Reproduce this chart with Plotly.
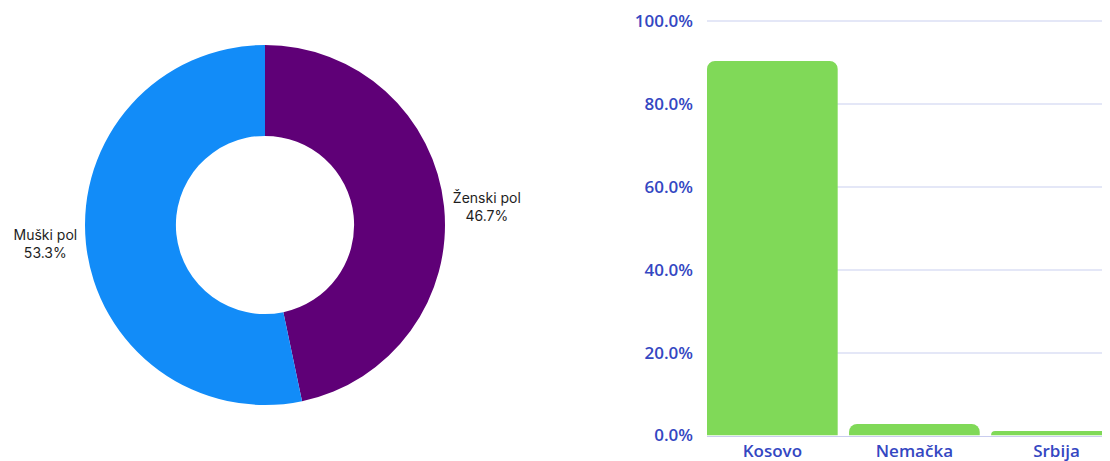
import plotly.graph_objects as go

pie_labels = ["Ženski pol", "Muški pol"]
pie_values = [46.7, 53.3]
pie_colors = ["#5f0077", "#128cf8"]

bar_categories = ["Kosovo", "Nemačka", "Srbija"]
bar_values = [0.904, 0.028, 0.011]

W, H = 1110, 461
OFF = 8  # page body margin offset

fig = go.Figure()

cx, cy, r = 265 - OFF, 225 - OFF, 180
fig.add_trace(go.Pie(
    labels=pie_labels,
    values=pie_values,
    sort=False,
    direction="clockwise",
    rotation=0,
    hole=0.495,
    marker=dict(colors=pie_colors, line=dict(width=0)),
    textposition="outside",
    texttemplate="%{label}<br>%{percent:.1%}",
    textfont=dict(family="Inter, Open Sans, sans-serif", size=14, color="#1e1e1e"),
    domain=dict(x=[(cx - r) / W, (cx + r) / W], y=[(H - (cy + r)) / H, (H - (cy - r)) / H]),
    showlegend=False,
    hoverinfo="label+percent",
    automargin=False,
))

fig.add_trace(go.Bar(
    x=bar_categories,
    y=bar_values,
    marker=dict(color="#80d958", line=dict(width=0)),
    showlegend=False,
    xaxis="x",
    yaxis="y",
))

tick_font = dict(family="Open Sans, sans-serif", size=17, color="#3447c2", weight=600)

x0, x1 = 707 - OFF, 1110 - OFF
y_top, y_bot = 20 - OFF, 435.5 - OFF

fig.update_layout(
    width=W, height=H,
    margin=dict(l=0, r=0, t=0, b=0, autoexpand=False),
    paper_bgcolor="white",
    plot_bgcolor="white",
    bargap=0.08,
    barcornerradius=8,
    xaxis=dict(
        domain=[x0 / W, x1 / W],
        range=[-0.46, 2.377],
        showgrid=False,
        showline=True,
        linecolor="#c9cdef",
        linewidth=1,
        ticks="",
        ticklabelstandoff=0,
        tickfont=tick_font,
        automargin=False,
        fixedrange=True,
    ),
    yaxis=dict(
        domain=[(H - y_bot) / H, (H - y_top) / H],
        range=[0, 1.003],
        tickvals=[0, 0.2, 0.4, 0.6, 0.8, 1.0],
        tickformat=".1%",
        showgrid=True,
        gridcolor="#e4e7f7",
        gridwidth=1.5,
        zeroline=False,
        showline=False,
        ticks="",
        ticklabelstandoff=13,
        tickfont=tick_font,
        automargin=False,
        fixedrange=True,
    ),
)

fig.write_html("out.html")
